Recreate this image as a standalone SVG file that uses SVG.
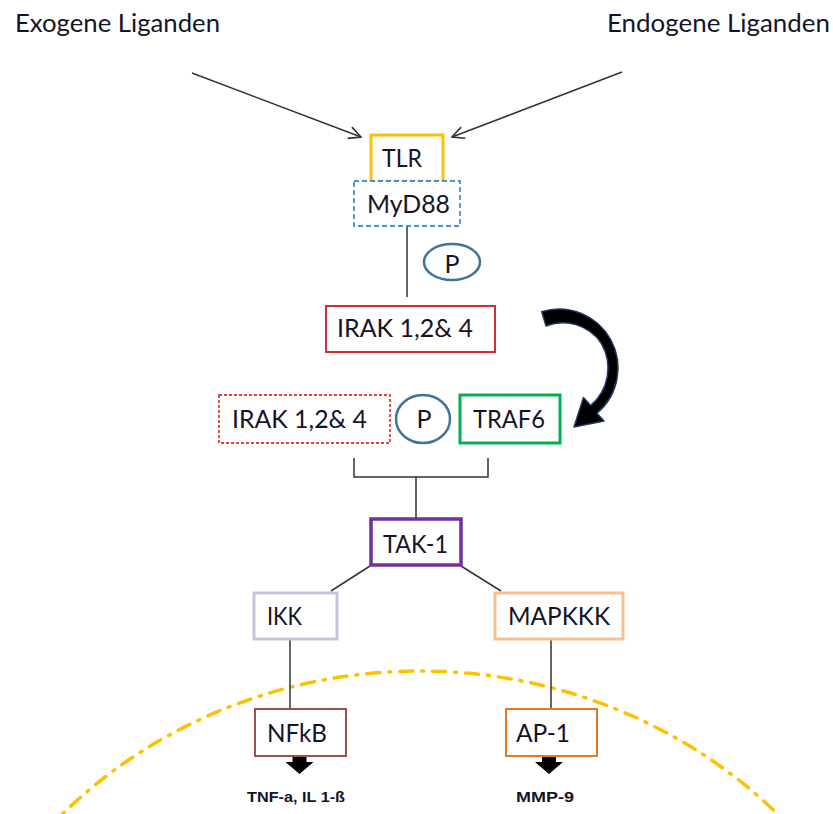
<svg xmlns="http://www.w3.org/2000/svg" width="833" height="814" viewBox="0 0 833 814">
  <style>
    .lbl { font-family: Lato, "Open Sans", "Liberation Sans", sans-serif; font-size: 25px; fill: #141428; }
    .out { font-family: "Liberation Sans", Arial, sans-serif; font-size: 14px; font-weight: bold; fill: #141428; }
    .box { fill: #fff; }
    .wire { stroke: #333; stroke-width: 1.5; fill: none; }
    .pbub { fill: #fff; stroke: #41719C; stroke-width: 2.5; }
  </style>
  <defs>
    <marker id="openHead" viewBox="0 0 14 14" refX="13" refY="7" markerWidth="14" markerHeight="14" markerUnits="userSpaceOnUse" orient="auto">
      <path d="M1,1 L13,7 L1,13" fill="none" stroke="#333" stroke-width="1.6"/>
    </marker>
    <path id="blockDown" d="M-7,0 H7 V9 H14 L0,21 L-14,9 H-7 Z" fill="#000"/>
  </defs>

  <!-- nucleus boundary -->
  <ellipse cx="420" cy="1146" rx="500" ry="475" fill="none" stroke="#FFC000" stroke-width="3.5" stroke-dasharray="13 9 2 9" stroke-linecap="round"/>

  <!-- ligand sources -->
  <g id="exogen"><text class="lbl" x="15" y="32" textLength="205" lengthAdjust="spacingAndGlyphs">Exogene Liganden</text></g>
  <g id="endogen"><text class="lbl" x="607" y="32" textLength="223" lengthAdjust="spacingAndGlyphs">Endogene Liganden</text></g>

  <g id="connectors">
    <line class="wire" x1="192" y1="73" x2="361" y2="137" marker-end="url(#openHead)"/>
    <line class="wire" x1="622" y1="72" x2="452" y2="137" marker-end="url(#openHead)"/>
    <line class="wire" x1="407" y1="226" x2="407" y2="297"/>
    <path class="wire" d="M354,458 V477 H488 V458"/>
    <line class="wire" x1="416" y1="477" x2="416" y2="518"/>
    <line class="wire" x1="370" y1="566" x2="331" y2="591"/>
    <line class="wire" x1="461" y1="566" x2="501" y2="591"/>
    <line class="wire" x1="290" y1="639" x2="290" y2="709"/>
    <line class="wire" x1="551" y1="639" x2="551" y2="709"/>
    <!-- curved activation arrow: tapering arc with head -->
    <path d="M541.7,311.6 A59,59 0 0 1 596.9,413.2 L604,421 L574,427 L583.5,397.5 L590.5,405.6 A49,49 0 0 0 601.4,343.5 A46,46 0 0 0 546,326 Z" fill="#000" stroke="#1F3864" stroke-width="1.5" stroke-linejoin="round"/>
    <use href="#blockDown" x="299.5" y="753"/>
    <use href="#blockDown" x="549" y="753"/>
  </g>

  <g id="tlr">
    <rect class="box" x="371" y="135" width="72" height="47" stroke="#FFC000" stroke-width="3"/>
    <text class="lbl" x="382" y="167" textLength="40" lengthAdjust="spacingAndGlyphs">TLR</text>
  </g>
  <g id="myd88">
    <rect class="box" x="354" y="181" width="106" height="45" stroke="#4A90D0" stroke-width="1.8" stroke-dasharray="5 3"/>
    <text class="lbl" x="367" y="213" textLength="83" lengthAdjust="spacingAndGlyphs">MyD88</text>
  </g>
  <g id="p1">
    <ellipse class="pbub" cx="452" cy="262" rx="28" ry="18"/>
    <text class="lbl" x="452" y="273" text-anchor="middle">P</text>
  </g>
  <g id="irak">
    <rect class="box" x="326" y="306" width="169" height="46" stroke="#D03030" stroke-width="2"/>
    <text class="lbl" x="337" y="337" textLength="136" lengthAdjust="spacingAndGlyphs">IRAK 1,2&amp; 4</text>
  </g>
  <g id="irak-p">
    <rect class="box" x="219" y="395" width="171" height="48" stroke="#E04040" stroke-width="1.8" stroke-dasharray="3 2"/>
    <text class="lbl" x="232" y="428" textLength="135" lengthAdjust="spacingAndGlyphs">IRAK 1,2&amp; 4</text>
  </g>
  <g id="p2">
    <ellipse class="pbub" cx="423" cy="419" rx="27" ry="24"/>
    <text class="lbl" x="424" y="428" text-anchor="middle">P</text>
  </g>
  <g id="traf6">
    <rect class="box" x="460" y="395" width="100" height="48" stroke="#00B050" stroke-width="3"/>
    <text class="lbl" x="473" y="428" textLength="72" lengthAdjust="spacingAndGlyphs">TRAF6</text>
  </g>
  <g id="tak1">
    <rect class="box" x="371" y="519" width="90" height="46" stroke="#7030A0" stroke-width="3.5"/>
    <text class="lbl" x="383" y="553" textLength="65" lengthAdjust="spacingAndGlyphs">TAK-1</text>
  </g>
  <g id="ikk">
    <rect class="box" x="254" y="593" width="83" height="46" stroke="#CCC1DA" stroke-width="3"/>
    <text class="lbl" x="267" y="625" textLength="35" lengthAdjust="spacingAndGlyphs">IKK</text>
  </g>
  <g id="mapkkk">
    <rect class="box" x="495" y="593" width="128" height="46" stroke="#FAC090" stroke-width="3"/>
    <text class="lbl" x="508" y="625" textLength="102" lengthAdjust="spacingAndGlyphs">MAPKKK</text>
  </g>
  <g id="nfkb">
    <rect class="box" x="255" y="709" width="91" height="47" stroke="#A0504A" stroke-width="2"/>
    <text class="lbl" x="267" y="742" textLength="60" lengthAdjust="spacingAndGlyphs">NFkB</text>
  </g>
  <g id="ap1">
    <rect class="box" x="506" y="709" width="91" height="47" stroke="#E87722" stroke-width="2"/>
    <text class="lbl" x="516" y="742" textLength="54" lengthAdjust="spacingAndGlyphs">AP-1</text>
  </g>
  <g id="products">
    <text class="out" x="247" y="802" textLength="98" lengthAdjust="spacingAndGlyphs">TNF-a, IL 1-ß</text>
    <text class="out" x="516" y="802" textLength="58" lengthAdjust="spacingAndGlyphs">MMP-9</text>
  </g>
</svg>
